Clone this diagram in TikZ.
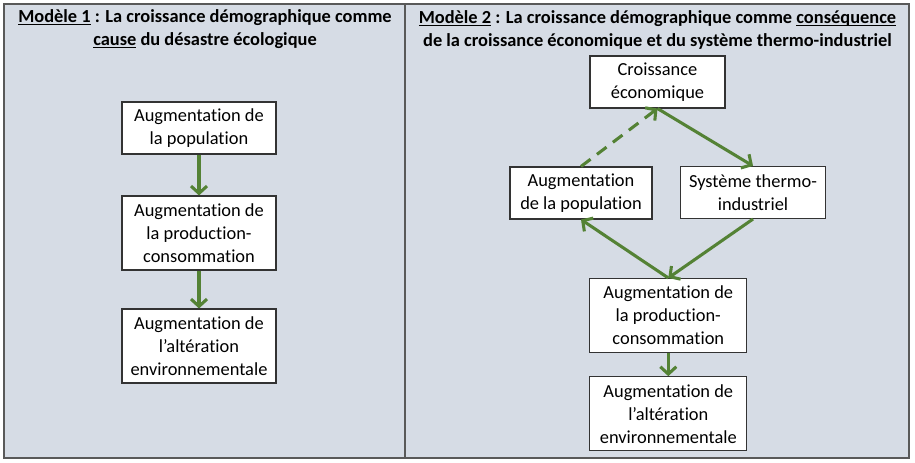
\documentclass[tikz,border=0pt]{standalone}
\usepackage{fontspec}
\setmainfont{Carlito}[Ligatures=NoCommon]
\usetikzlibrary{arrows.meta}
\definecolor{panel}{HTML}{D6DCE5}
\definecolor{framegray}{HTML}{595959}
\definecolor{leaf}{HTML}{548235}
\newcommand\uln[1]{\underline{\smash{#1}}}

\begin{document}
\begin{tikzpicture}[x=0.75pt, y=-0.75pt,
            txt/.style={align=center, inner sep=0pt, font=\fontsize{13.8}{17.25}\selectfont},
            box/.style={txt, draw=black!80, fill=white, line width=0.8pt},
            arr/.style={draw=leaf, line width=2.3pt, -{Straight Barb[length=5.5pt, width=12pt]}}]
            \useasboundingbox (0,0) rectangle (915,463);
            \draw[framegray, fill=panel, line width=1.2pt] (4,4) rectangle (909,458);
            \draw[framegray, line width=1.2pt] (405,4) -- (405,458);
            % titles
            \node[txt, font=\fontsize{13.8}{17.25}\selectfont\bfseries] (t1) at (205, 29.5) {\uln{Modèle 1} : La croissance démographique comme\\\uln{cause} du désastre écologique};
            \node[txt, font=\fontsize{13.8}{17.25}\selectfont\bfseries] (t2) at (657.5, 29.5) {\uln{Modèle 2} : La croissance démographique comme \uln{conséquence}\\de la croissance économique et du système thermo-industriel};
            % model 1
            \node[box, minimum width=115.5pt, minimum height=39pt] (a0) at (199, 128) {Augmentation de\\la population};
            \node[box, minimum width=115.5pt, minimum height=55.5pt] (a1) at (199, 233) {Augmentation de\\la production-\\consommation};
            \node[box, minimum width=115.5pt, minimum height=55.5pt] (a2) at (199, 346) {Augmentation de\\l’altération\\environnementale};
            \draw[arr] (a0) -- (a1);
            \draw[arr] (a1) -- (a2);
            % model 2
            \node[box, minimum width=101.25pt, minimum height=39pt] (b0) at (657.5, 82) {Croissance\\économique};
            \node[box, minimum width=106.5pt, minimum height=39pt] (b1) at (581, 193) {Augmentation\\de la population};
            \node[box, minimum width=108.75pt, minimum height=39pt] (b2) at (753, 192.5) {Système thermo-\\industriel};
            \node[box, minimum width=117.75pt, minimum height=55.5pt] (b3) at (668.3, 315.5) {Augmentation de\\la production-\\consommation};
            \node[box, minimum width=117.75pt, minimum height=55.5pt] (b4) at (668.3, 413.7) {Augmentation de\\l’altération\\environnementale};
            \draw[arr] (b0.south) -- (b2.north);
            \draw[arr, dash pattern=on 9pt off 6pt] (b1.north) -- (b0.south);
            \draw[arr] (b2.south) -- (b3.north);
            \draw[arr] (b3.north) -- (b1.south);
            \draw[arr] (b3) -- (b4);
        \end{tikzpicture}
\end{document}
